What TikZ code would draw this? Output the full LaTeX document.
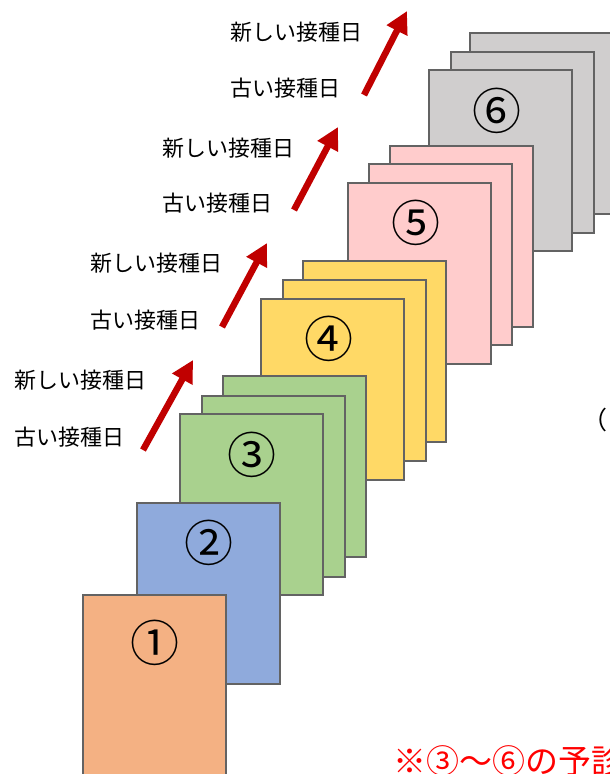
\documentclass[tikz,border=0pt]{standalone}
\usepackage{fontspec}
\setmainfont{Noto Sans CJK JP}
\usetikzlibrary{arrows.meta}
\definecolor{cardline}{HTML}{636363}
\definecolor{cOrange}{HTML}{F4B183}
\definecolor{cBlue}{HTML}{8FAADC}
\definecolor{cGreen}{HTML}{A9D18E}
\definecolor{cYellow}{HTML}{FFD966}
\definecolor{cPink}{HTML}{FFCCCC}
\definecolor{cGrey}{HTML}{D0CECE}
\definecolor{arrowred}{HTML}{C00000}
\tikzset{
  card/.style={draw=cardline, line width=2.5pt, anchor=north west, minimum width=143pt, minimum height=181pt, inner sep=0pt, outer sep=0pt},
  num/.style={font=\fontsize{49}{52}\selectfont, inner sep=0pt, text=black},
  lbl/.style={font=\fontsize{22}{25}\selectfont, anchor=west, inner sep=0pt, text=black},
  note/.style={font=\fontsize{33}{36}\selectfont, anchor=west, inner sep=0pt, text=red},
  uparrow/.style={draw=arrowred, line width=6.5pt, -{Triangle[length=22pt,width=22pt]}}
}
\begin{document}
\begin{tikzpicture}[x=1pt,y=-1pt]
\useasboundingbox (0,0) rectangle (610,774);
\clip (0,0) rectangle (610,774);
% stack 6
\node[card, fill=cGrey] (c6c) at (470,33) {};
\node[card, fill=cGrey] (c6b) at (451,52) {};
\node[card, fill=cGrey] (c6a) at (429,70) {};
\node[num] (n6) at (497,111) {⑥};
% stack 5
\node[card, fill=cPink] (c5c) at (390,146) {};
\node[card, fill=cPink] (c5b) at (369,164) {};
\node[card, fill=cPink] (c5a) at (348,183) {};
\node[num] (n5) at (416,223) {⑤};
% stack 4
\node[card, fill=cYellow] (c4c) at (303,261) {};
\node[card, fill=cYellow] (c4b) at (283,280) {};
\node[card, fill=cYellow] (c4a) at (261,299) {};
\node[num] (n4) at (329,339) {④};
% stack 3
\node[card, fill=cGreen] (c3c) at (223,376) {};
\node[card, fill=cGreen] (c3b) at (202,396) {};
\node[card, fill=cGreen] (c3a) at (180,414) {};
\node[num] (n3) at (252,455) {③};
% card 2
\node[card, fill=cBlue] (c2) at (137,503) {};
\node[num] (n2) at (209,543) {②};
% card 1
\node[card, fill=cOrange] (c1) at (83,595) {};
\node[num] (n1) at (155,643) {①};
% labels
\node[lbl] (new1) at (14,380) {新しい接種日};
\node[lbl] (old1) at (14,437) {古い接種日};
\node[lbl] (new2) at (90,263) {新しい接種日};
\node[lbl] (old2) at (90,320) {古い接種日};
\node[lbl] (new3) at (162,148) {新しい接種日};
\node[lbl] (old3) at (162,203) {古い接種日};
\node[lbl] (new4) at (230,32) {新しい接種日};
\node[lbl] (old4) at (230,88) {古い接種日};
% arrows
\coordinate (a1s) at (143,450); \coordinate (a1e) at (193,360);
\coordinate (a2s) at (222,327); \coordinate (a2e) at (267,243);
\coordinate (a3s) at (294,210); \coordinate (a3e) at (338,127);
\coordinate (a4s) at (364,95);  \coordinate (a4e) at (407,11);
\draw[uparrow] (a1s) -- (a1e);
\draw[uparrow] (a2s) -- (a2e);
\draw[uparrow] (a3s) -- (a3e);
\draw[uparrow] (a4s) -- (a4e);
% partial texts
\node[lbl, font=\fontsize{25}{28}\selectfont] (paren) at (582,420) {（};
\node[note] (footnote) at (393,761) {※③～⑥の予診};
\end{tikzpicture}
\end{document}
